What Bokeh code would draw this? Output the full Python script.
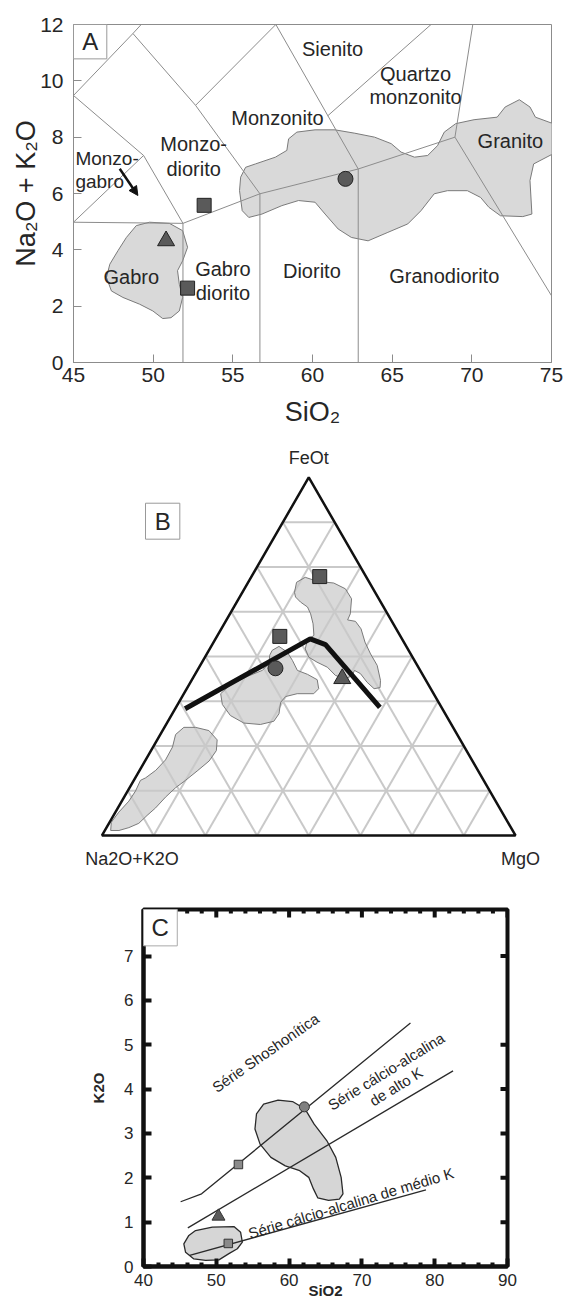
import math
from bokeh.plotting import figure
from bokeh.models import Range1d, FixedTicker, Arrow, NormalHead
from bokeh.embed import file_html
from bokeh.resources import INLINE
from bokeh.core.properties import value

FONT = "Liberation Sans"
TXT = "#262626"
FIELD_LINE = "#8c8c8c"
FILL = "#d9d9d9"

# ======================= Panel A data (TAS plutonic) =======================
a_xticks = [45, 50, 55, 60, 65, 70, 75]
a_yticks = [0, 2, 4, 6, 8, 10, 12]

a_boundaries = [
    [(45.0, 4.98), (51.87, 4.94), (56.7, 5.99), (62.87, 6.87), (68.94, 8.0)],
    [(45.0, 9.48), (49.4, 7.35), (51.87, 4.94)],
    [(45.0, 4.98), (49.4, 7.35)],
    [(45.0, 9.48), (48.73, 11.68), (49.25, 12.0)],
    [(48.73, 11.68), (52.66, 9.13), (56.7, 5.99)],
    [(52.66, 9.13), (57.7, 12.0)],
    [(62.87, 6.87), (57.7, 12.0)],
    [(60.96, 8.76), (67.44, 12.0)],
    [(68.94, 8.0), (70.06, 12.0)],
    [(68.94, 8.0), (75.0, 2.37)],
    [(51.87, 0.0), (51.87, 4.94)],
    [(56.7, 0.0), (56.7, 5.99)],
    [(62.87, 0.0), (62.87, 6.87)],
]

a_field1_x = [55.49, 55.80, 56.42, 57.67, 58.39, 58.50, 59.02, 60.16, 61.41, 62.66, 63.90, 64.94,
              65.56, 66.40, 67.23, 67.85, 68.27, 68.99, 70.14, 71.59, 72.09, 72.98, 73.65, 73.99,
              75.1, 75.1, 73.88, 73.65, 73.77, 73.20, 71.80, 71.07, 70.55, 69.72, 68.47, 67.64,
              66.81, 65.98, 64.73, 63.49, 62.44, 61.61, 60.79, 60.16, 59.12, 58.08, 56.83, 56.0,
              55.59, 55.42]
a_field1_y = [6.58, 6.93, 7.05, 7.29, 7.53, 7.94, 8.18, 8.26, 8.26, 8.14, 8.0, 7.77,
              7.47, 7.29, 7.35, 7.70, 8.18, 8.48, 8.62, 8.71, 9.07, 9.33, 9.07, 8.71,
              8.48, 7.41, 7.05, 6.46, 5.27, 5.18, 5.21, 5.51, 5.86, 6.10, 6.10, 5.99,
              5.39, 4.92, 4.62, 4.32, 4.44, 4.74, 5.27, 5.69, 5.75, 5.57, 5.27, 5.15,
              5.39, 6.10]
a_field2_x = [49.77, 51.02, 51.85, 52.16, 51.85, 51.53, 51.64, 51.85, 51.64, 51.12, 50.60, 49.98,
              49.15, 48.10, 47.38, 47.07, 47.28, 47.79, 48.32, 48.94]
a_field2_y = [4.98, 4.94, 4.68, 4.09, 3.61, 3.26, 2.78, 2.31, 1.83, 1.59, 1.56, 1.83,
              2.07, 2.31, 2.54, 3.02, 3.49, 3.97, 4.44, 4.86]

a_label_text = ["Sienito", "Quartzo", "monzonito", "Monzonito", "Granito", "Monzo-", "diorito",
                "Gabro", "Gabro", "diorito", "Diorito", "Granodiorito"]
a_label_x = [61.26, 66.47, 66.47, 57.8, 72.42, 52.54, 52.54, 48.63, 54.38, 54.38, 59.96, 68.27]
a_label_y = [11.14, 10.23, 9.42, 8.67, 7.88, 7.77, 6.88, 3.02, 3.32, 2.48, 3.26, 3.08]
# labels of the narrow monzogabbro field, left-aligned at the frame edge
a_left_label_text = ["Monzo-", "gabro"]
a_left_label_x = [45.12, 45.12]
a_left_label_y = [7.25, 6.43]

a_arrow = [47.9, 6.88, 49.04, 5.93]

a_circle_x, a_circle_y = [62.07], [6.52]
a_square_x, a_square_y = [53.2, 52.16], [5.58, 2.64]
a_tri_x, a_tri_y = [50.81], [4.32]

# ======================= Panel B data (AFM ternary, % FeOt / % MgO) =======================
b_field1_F = [67.9, 70.7, 72.1, 71.0, 70.5, 68.9, 66.1, 61.9, 60.2, 59.8, 57.7, 54.0, 50.7, 47.5, 43.3,
              41.3, 41.0, 42.8, 45.2, 46.1, 44.7, 43.8, 44.7, 47.0, 48.4, 49.8, 52.1, 54.5, 55.9, 59.1,
              61.9, 63.8, 65.2, 66.6]
b_field1_M = [12.6, 11.7, 13.1, 16.5, 20.8, 24.4, 27.3, 29.1, 29.3, 31.4, 33.8, 36.6, 39.6, 42.8, 45.7,
              46.6, 45.3, 42.7, 39.9, 38.0, 38.2, 37.0, 34.1, 31.0, 27.8, 25.1, 23.1, 22.4, 23.3, 21.5,
              19.5, 17.8, 15.4, 13.5]
b_field2_F = [51.7, 52.8, 51.2, 48.9, 46.1, 45.0, 43.5, 41.0, 39.6, 39.6, 38.8, 37.2, 34.0, 31.9, 31.0,
              31.4, 33.5, 36.6, 39.6, 42.2, 44.4, 46.1, 48.0, 50.3]
b_field2_M = [15.3, 16.4, 19.2, 21.6, 24.2, 27.2, 30.3, 31.9, 31.4, 27.4, 25.0, 24.6, 25.8, 25.6, 22.8,
              18.6, 14.3, 10.8, 8.9, 10.0, 12.9, 15.7, 16.4, 15.4]
b_field3_F = [1.4, 3.7, 6.5, 9.6, 12.4, 15.4, 16.1, 18.2, 21.1, 24.7, 28.2, 30.2, 30.2, 29.3, 26.7,
              23.7, 20.8, 18.0, 15.4, 13.3, 10.7, 7.7, 5.6, 3.4, 2.2, 1.4]
b_field3_M = [1.4, 0.4, 0.8, 1.7, 1.9, 1.6, 2.5, 3.9, 4.8, 4.7, 3.7, 4.7, 7.5, 11.2, 14.5,
              15.8, 15.5, 14.0, 12.5, 11.1, 10.0, 9.1, 8.1, 7.2, 5.4, 3.4]
b_divide_F = [35.4, 54.9, 53.3, 35.8]
b_divide_M = [2.4, 22.9, 27.4, 49.3]
b_square_F, b_square_M = [72.3, 55.6], [16.5, 15.2]
b_circle_F, b_circle_M = [46.7], [18.6]
b_tri_F, b_tri_M = [43.8], [36.2]
b_divisions = 8
b_vertex_labels = ["FeOt", "Na2O+K2O", "MgO"]

# ======================= Panel C data (K2O vs SiO2) =======================
c_xticks = [40, 50, 60, 70, 80, 90]
c_xminor = [42, 44, 46, 48, 52, 54, 56, 58, 62, 64, 66, 68, 72, 74, 76, 78, 82, 84, 86, 88]
c_yticks = [0, 1, 2, 3, 4, 5, 6, 7]
c_yticks_right = [1, 2, 3, 4, 5, 7]

c_shosh_x, c_shosh_y = [45.1, 47.98, 76.67], [1.46, 1.64, 5.49]
c_highk_x, c_highk_y = [46.09, 82.52], [0.87, 4.41]
c_medk_x, c_medk_y = [46.34, 78.8], [0.25, 1.73]

c_field1_x = [55.52, 56.5, 58.49, 60.47, 62.2, 63.44, 65.17, 66.41, 67.15, 67.4, 66.9, 65.42, 63.93,
              63.34, 62.7, 61.46, 59.48, 57.5, 56.01, 55.31]
c_field1_y = [3.44, 3.66, 3.75, 3.72, 3.55, 3.21, 2.84, 2.46, 2.01, 1.64, 1.52, 1.49, 1.55,
              1.75, 2.01, 2.16, 2.27, 2.46, 2.76, 3.1]
c_field2_x = [45.54, 46.23, 47.15, 49.45, 52.42, 53.34, 53.58, 52.89, 51.73, 50.36, 48.53, 46.92, 45.78]
c_field2_y = [0.51, 0.70, 0.81, 0.89, 0.90, 0.77, 0.55, 0.40, 0.29, 0.15, 0.14, 0.17, 0.32]

c_label_text = ["Série Shoshonítica", "Série cálcio-alcalina", "de alto K",
                "Série cálcio-alcalina de médio K"]
c_label_x = [56.75, 73.34, 74.69, 68.5]
c_label_y = [4.82, 4.40, 4.06, 1.43]
c_label_angle_deg = [34.8, 31.7, 31.7, 16.7]

c_circle_x, c_circle_y = [62.1], [3.6]
c_square_x, c_square_y = [53.04, 51.65], [2.30, 0.52]
c_tri_x, c_tri_y = [50.3], [1.13]

C_XMAX, C_YMAX = 90, 8.05

# ============================== Panel A ==============================
pA = figure(width=563, height=440, x_range=Range1d(45, 75), y_range=Range1d(0, 12),
            output_backend="svg", toolbar_location=None,
            min_border_left=73, min_border_right=12, min_border_top=24, min_border_bottom=78)
pA.grid.visible = False
pA.outline_line_color = FIELD_LINE
pA.outline_line_width = 1

for ax in (pA.xaxis[0], pA.yaxis[0]):
    ax.major_tick_in = 8
    ax.major_tick_out = 0
    ax.minor_tick_in = 0
    ax.minor_tick_out = 0
    ax.axis_line_color = FIELD_LINE
    ax.major_tick_line_color = FIELD_LINE
    ax.major_label_text_font = FONT
    ax.major_label_text_font_size = "21px"
    ax.major_label_text_color = TXT
    ax.axis_label_text_font = FONT
    ax.axis_label_text_font_size = "27px"
    ax.axis_label_text_font_style = "normal"
    ax.axis_label_text_color = TXT
pA.xaxis.ticker = FixedTicker(ticks=a_xticks)
pA.yaxis.ticker = FixedTicker(ticks=a_yticks)
pA.xaxis.major_label_standoff = 5
pA.xaxis.axis_label = "SiO\u2082"
pA.xaxis.axis_label_standoff = 12
pA.yaxis.major_label_standoff = 10
pA.yaxis.axis_label = "Na\u2082O + K\u2082O"
pA.yaxis.axis_label_standoff = -4

pA.patch(a_field1_x, a_field1_y, fill_color=FILL, line_color="#7a7a7a", line_width=1)
pA.patch(a_field2_x, a_field2_y, fill_color=FILL, line_color="#7a7a7a", line_width=1)
pA.multi_line([[p[0] for p in seg] for seg in a_boundaries],
              [[p[1] for p in seg] for seg in a_boundaries],
              line_color=FIELD_LINE, line_width=1)
pA.text(x=a_label_x, y=a_label_y, text=a_label_text, text_font=value(FONT),
        text_font_size="20px", text_color=TXT, text_align="center", text_baseline="middle")
pA.text(x=a_left_label_x, y=a_left_label_y, text=a_left_label_text, text_font=value(FONT),
        text_font_size="19px", text_color=TXT, text_align="left", text_baseline="middle")
pA.add_layout(Arrow(end=NormalHead(size=9, fill_color="#111111", line_color="#111111"),
                    x_start=a_arrow[0], y_start=a_arrow[1], x_end=a_arrow[2], y_end=a_arrow[3],
                    line_width=2.5, line_color="#111111"))
pA.scatter(a_circle_x, a_circle_y, marker="circle", size=15, fill_color="#5a5a5a", line_color="#222222")
pA.scatter(a_square_x, a_square_y, marker="square", size=14, fill_color="#5a5a5a", line_color="#222222")
pA.scatter(a_tri_x, a_tri_y, marker="triangle", size=17, fill_color="#5a5a5a", line_color="#222222")
pA.quad(left=[45], right=[47.09], bottom=[10.78], top=[12], fill_color="white",
        line_color="#999999", line_width=1, level="overlay")
pA.text(x=[46.05], y=[11.39], text=["A"], text_font=value(FONT), text_font_size="24px",
        text_color=TXT, text_align="center", text_baseline="middle", level="overlay")

# ============================== Panel B ==============================
R3 = math.sqrt(3) / 2.0


def tern(F, M):
    f = F / 100.0
    m = M / 100.0
    return m + f / 2.0, f * R3


def tern_list(Fs, Ms):
    pts = [tern(f, m) for f, m in zip(Fs, Ms)]
    return [p[0] for p in pts], [p[1] for p in pts]


pB = figure(width=563, height=440, x_range=Range1d(-0.24547, 1.11608),
            y_range=Range1d(-0.10883, 0.95526), output_backend="svg", toolbar_location=None,
            min_border=0)
pB.axis.visible = False
pB.grid.visible = False
pB.outline_line_color = None

for Fs, Ms in ((b_field1_F, b_field1_M), (b_field2_F, b_field2_M), (b_field3_F, b_field3_M)):
    xs, ys = tern_list(Fs, Ms)
    pB.patch(xs, ys, fill_color=FILL, line_color=None)

gx, gy = [], []
for k in range(1, b_divisions):
    t = 100.0 * k / b_divisions
    for (F1, M1), (F2, M2) in (((t, 0), (t, 100 - t)),
                               ((0, t), (100 - t, t)),
                               ((0, 100 - t), (100 - t, 0))):
        x1, y1 = tern(F1, M1)
        x2, y2 = tern(F2, M2)
        gx.append([x1, x2])
        gy.append([y1, y2])
pB.multi_line(gx, gy, line_color="#c9c9c9", line_width=2)

for Fs, Ms in ((b_field1_F, b_field1_M), (b_field2_F, b_field2_M), (b_field3_F, b_field3_M)):
    xs, ys = tern_list(Fs, Ms)
    pB.patch(xs, ys, fill_color=None, line_color="#7a7a7a", line_width=1)

tx, ty = tern_list([0, 100, 0], [0, 0, 100])
pB.patch(tx, ty, fill_color=None, line_color="#111111", line_width=2.5)

dx, dy = tern_list(b_divide_F, b_divide_M)
pB.line(dx, dy, line_color="#111111", line_width=5)

sx, sy = tern_list(b_square_F, b_square_M)
pB.scatter(sx, sy, marker="square", size=14, fill_color="#5a5a5a", line_color="#222222")
cx, cy = tern_list(b_circle_F, b_circle_M)
pB.scatter(cx, cy, marker="circle", size=15, fill_color="#5a5a5a", line_color="#222222")
trx, tri_y = tern_list(b_tri_F, b_tri_M)
pB.scatter(trx, tri_y, marker="triangle", size=17, fill_color="#5a5a5a", line_color="#222222")

apx, apy = tern(100, 0)
pB.text(x=[apx, 0.0726, 1.0121], y=[apy + 0.046, -0.0563, -0.0563], text=b_vertex_labels,
        text_font=value(FONT), text_font_size="18px", text_color=TXT,
        text_align="center", text_baseline="middle")
pB.quad(left=[0.1052], right=[0.1882], bottom=[0.7166], top=[0.8036], fill_color="white",
        line_color="#999999", line_width=1)
pB.text(x=[0.1467], y=[0.7601], text=["B"], text_font=value(FONT), text_font_size="24px",
        text_color=TXT, text_align="center", text_baseline="middle")

# ============================== Panel C ==============================
pC = figure(width=563, height=423, x_range=Range1d(40, C_XMAX), y_range=Range1d(0, C_YMAX),
            output_backend="svg", toolbar_location=None,
            min_border_left=143, min_border_right=56, min_border_top=29, min_border_bottom=37)
pC.grid.visible = False
pC.outline_line_color = "#111111"
pC.outline_line_width = 4

for ax in pC.axis:
    ax.axis_line_color = "#111111"
    ax.axis_line_width = 4
    ax.major_tick_in = 8
    ax.major_tick_out = 0
    ax.minor_tick_in = 4
    ax.minor_tick_out = 0
    ax.major_tick_line_width = 4
    ax.minor_tick_line_width = 4
    ax.major_tick_line_color = "#111111"
    ax.minor_tick_line_color = "#111111"
    ax.major_label_text_font = FONT
    ax.major_label_text_font_size = "17px"
    ax.major_label_text_color = TXT
    ax.axis_label_text_font = FONT
    ax.axis_label_text_font_size = "15px"
    ax.axis_label_text_font_style = "bold"
    ax.axis_label_text_color = TXT
pC.xaxis.ticker = FixedTicker(ticks=c_xticks, minor_ticks=c_xminor)
pC.yaxis.ticker = FixedTicker(ticks=c_yticks)
pC.xaxis.major_label_standoff = 7
pC.xaxis.axis_label = "SiO2"
pC.xaxis.axis_label_standoff = -7
pC.yaxis.major_label_standoff = 10
pC.yaxis.axis_label = "K2O"
pC.yaxis.axis_label_standoff = 14

# tick marks on the top and right frame edges (half of each dash is clipped by the frame)
pC.scatter(c_xticks, [C_YMAX] * len(c_xticks), marker="dash", angle=math.pi / 2, size=16,
           line_color="#111111", line_width=4)
pC.scatter(c_xminor, [C_YMAX] * len(c_xminor), marker="dash", angle=math.pi / 2, size=8,
           line_color="#111111", line_width=4)
pC.scatter([C_XMAX] * len(c_yticks_right), c_yticks_right, marker="dash", size=14,
           line_color="#111111", line_width=4)

pC.patch(c_field1_x, c_field1_y, fill_color="#d6d6d6", line_color="#2a2a2a", line_width=1.3)
pC.patch(c_field2_x, c_field2_y, fill_color="#d6d6d6", line_color="#2a2a2a", line_width=1.3)
pC.line(c_shosh_x, c_shosh_y, line_color="#2a2a2a", line_width=1.3)
pC.line(c_highk_x, c_highk_y, line_color="#2a2a2a", line_width=1.3)
pC.line(c_medk_x, c_medk_y, line_color="#2a2a2a", line_width=1.3)
pC.text(x=c_label_x, y=c_label_y, text=c_label_text,
        angle=[math.radians(a) for a in c_label_angle_deg],
        text_font=value(FONT), text_font_size="15px", text_color=TXT,
        text_align="center", text_baseline="middle")
pC.scatter(c_circle_x, c_circle_y, marker="circle", size=10, fill_color="#808080", line_color="#333333")
pC.scatter(c_square_x, c_square_y, marker="square", size=8.5, fill_color="#8a8a8a", line_color="#333333")
pC.scatter(c_tri_x, c_tri_y, marker="triangle", size=13, fill_color="#5a5a5a", line_color="#333333")
pC.quad(left=[40], right=[44.64], bottom=[7.23], top=[C_YMAX], fill_color="white",
        line_color="#aaaaaa", line_width=1, level="overlay")
pC.text(x=[42.3], y=[7.64], text=["C"], text_font=value(FONT), text_font_size="24px",
        text_color=TXT, text_align="center", text_baseline="middle", level="overlay")

open("out.html", "w").write(file_html([pA, pB, pC], INLINE))
